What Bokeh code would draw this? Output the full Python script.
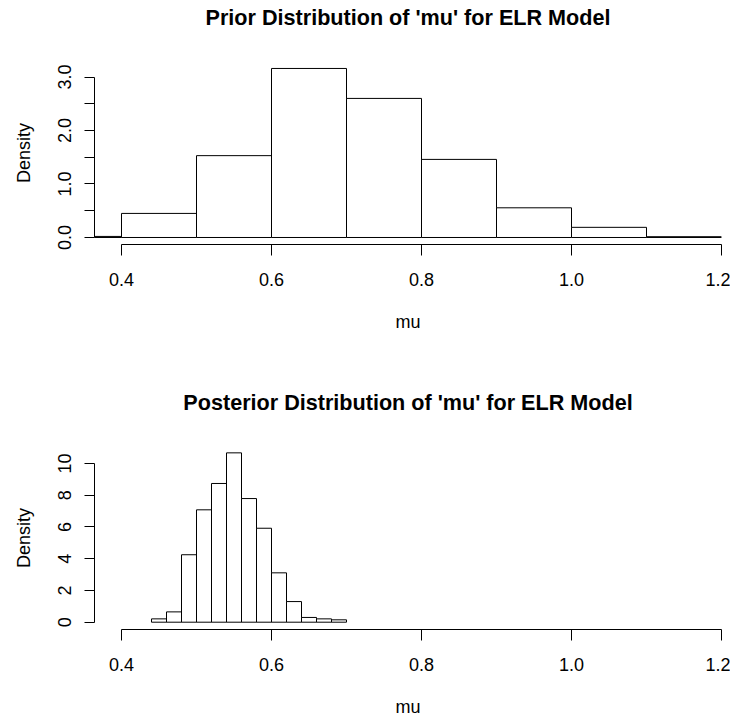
from bokeh.plotting import figure
from bokeh.layouts import column
from bokeh.models import FixedTicker, PrintfTickFormatter, Range1d
from bokeh.core.properties import value
from bokeh.embed import file_html
from bokeh.resources import INLINE

# ---- data ----
prior_left = [0.3, 0.4, 0.5, 0.6, 0.7, 0.8, 0.9, 1.0, 1.1]
prior_right = [0.4, 0.5, 0.6, 0.7, 0.8, 0.9, 1.0, 1.1, 1.2]
prior_density = [0.02, 0.45, 1.53, 3.16, 2.60, 1.46, 0.555, 0.19, 0.015]

post_left = [0.44, 0.46, 0.48, 0.50, 0.52, 0.54, 0.56, 0.58, 0.60, 0.62, 0.64, 0.66, 0.68]
post_right = [0.46, 0.48, 0.50, 0.52, 0.54, 0.56, 0.58, 0.60, 0.62, 0.64, 0.66, 0.68, 0.70]
post_density = [0.21, 0.65, 4.25, 7.08, 8.74, 10.67, 7.79, 5.92, 3.11, 1.30, 0.30, 0.21, 0.15]

x_ticks = [0.4, 0.6, 0.8, 1.0, 1.2]
prior_y_major = [0.0, 1.0, 2.0, 3.0]
prior_y_minor = [0.5, 1.5, 2.5]
post_y_ticks = [0, 2, 4, 6, 8, 10]

prior_title = "Prior Distribution of 'mu' for ELR Model"
post_title = "Posterior Distribution of 'mu' for ELR Model"

FONT = "Liberation Sans"


def title_fig(text, baseline_from_bottom):
    t = figure(width=730, height=40, frame_width=627, frame_height=40,
               x_range=Range1d(0, 627), y_range=Range1d(0, 40),
               output_backend="svg", toolbar_location=None,
               min_border_left=94, min_border_right=9,
               min_border_top=0, min_border_bottom=0)
    t.axis.visible = False
    t.grid.visible = False
    t.outline_line_color = None
    t.background_fill_color = "white"
    t.border_fill_color = "white"
    t.text(x=[313.5], y=[baseline_from_bottom], text=[text],
           text_align="center", text_baseline="alphabetic",
           text_font=value(FONT), text_font_size="21.6px",
           text_font_style="bold", text_color="black")
    return t


def make_fig(left, right, dens, y_range, border_top, border_bottom):
    p = figure(width=730, height=border_top + 183 + border_bottom,
               frame_width=627, frame_height=183,
               x_range=Range1d(0.364, 1.2), y_range=y_range,
               output_backend="svg", toolbar_location=None,
               min_border_left=94, min_border_right=9,
               min_border_top=border_top, min_border_bottom=border_bottom)
    p.outline_line_color = None
    p.grid.visible = False
    p.background_fill_color = "white"
    p.border_fill_color = "white"
    p.quad(left=left, right=right, top=dens, bottom=0,
           fill_color="white", line_color="black", line_width=1)

    xa = p.xaxis[0]
    xa.ticker = FixedTicker(ticks=x_ticks)
    xa.formatter = PrintfTickFormatter(format="%.1f")
    xa.bounds = (0.4, 1.2)
    xa.axis_label = "mu"

    for ax in (p.xaxis[0], p.yaxis[0]):
        ax.axis_line_color = "black"
        ax.major_tick_line_color = "black"
        ax.minor_tick_line_color = "black"
        ax.major_tick_in = 0
        ax.minor_tick_in = 0
        ax.major_label_text_font = FONT
        ax.major_label_text_font_size = "18px"
        ax.major_label_text_color = "black"
        ax.axis_label_text_font = FONT
        ax.axis_label_text_font_size = "18px"
        ax.axis_label_text_font_style = "normal"
        ax.axis_label_text_color = "black"
    xa.major_tick_out = 11
    xa.minor_tick_out = 0
    xa.major_label_standoff = 17
    xa.axis_label_standoff = 23

    ya = p.yaxis[0]
    ya.axis_label = "Density"
    ya.major_tick_out = 10
    ya.minor_tick_out = 10
    ya.major_label_orientation = "vertical"
    ya.major_label_standoff = 13
    ya.axis_label_standoff = 22
    return p


t1 = title_fig(prior_title, 23)
p1 = make_fig(prior_left, prior_right, prior_density,
              Range1d(-0.131, 3.29), 21, 145)
p1.yaxis[0].ticker = FixedTicker(ticks=prior_y_major, minor_ticks=prior_y_minor)
p1.yaxis[0].formatter = PrintfTickFormatter(format="%.1f")
p1.yaxis[0].bounds = (0, 3.0)

t2 = title_fig(post_title, 27)
p2 = make_fig(post_left, post_right, post_density,
              Range1d(-0.46, 11.07), 17, 85)
p2.yaxis[0].ticker = FixedTicker(ticks=post_y_ticks)
p2.yaxis[0].bounds = (0, 10)

layout = column(t1, p1, t2, p2, spacing=0)
open("out.html", "w").write(file_html(layout, INLINE))
